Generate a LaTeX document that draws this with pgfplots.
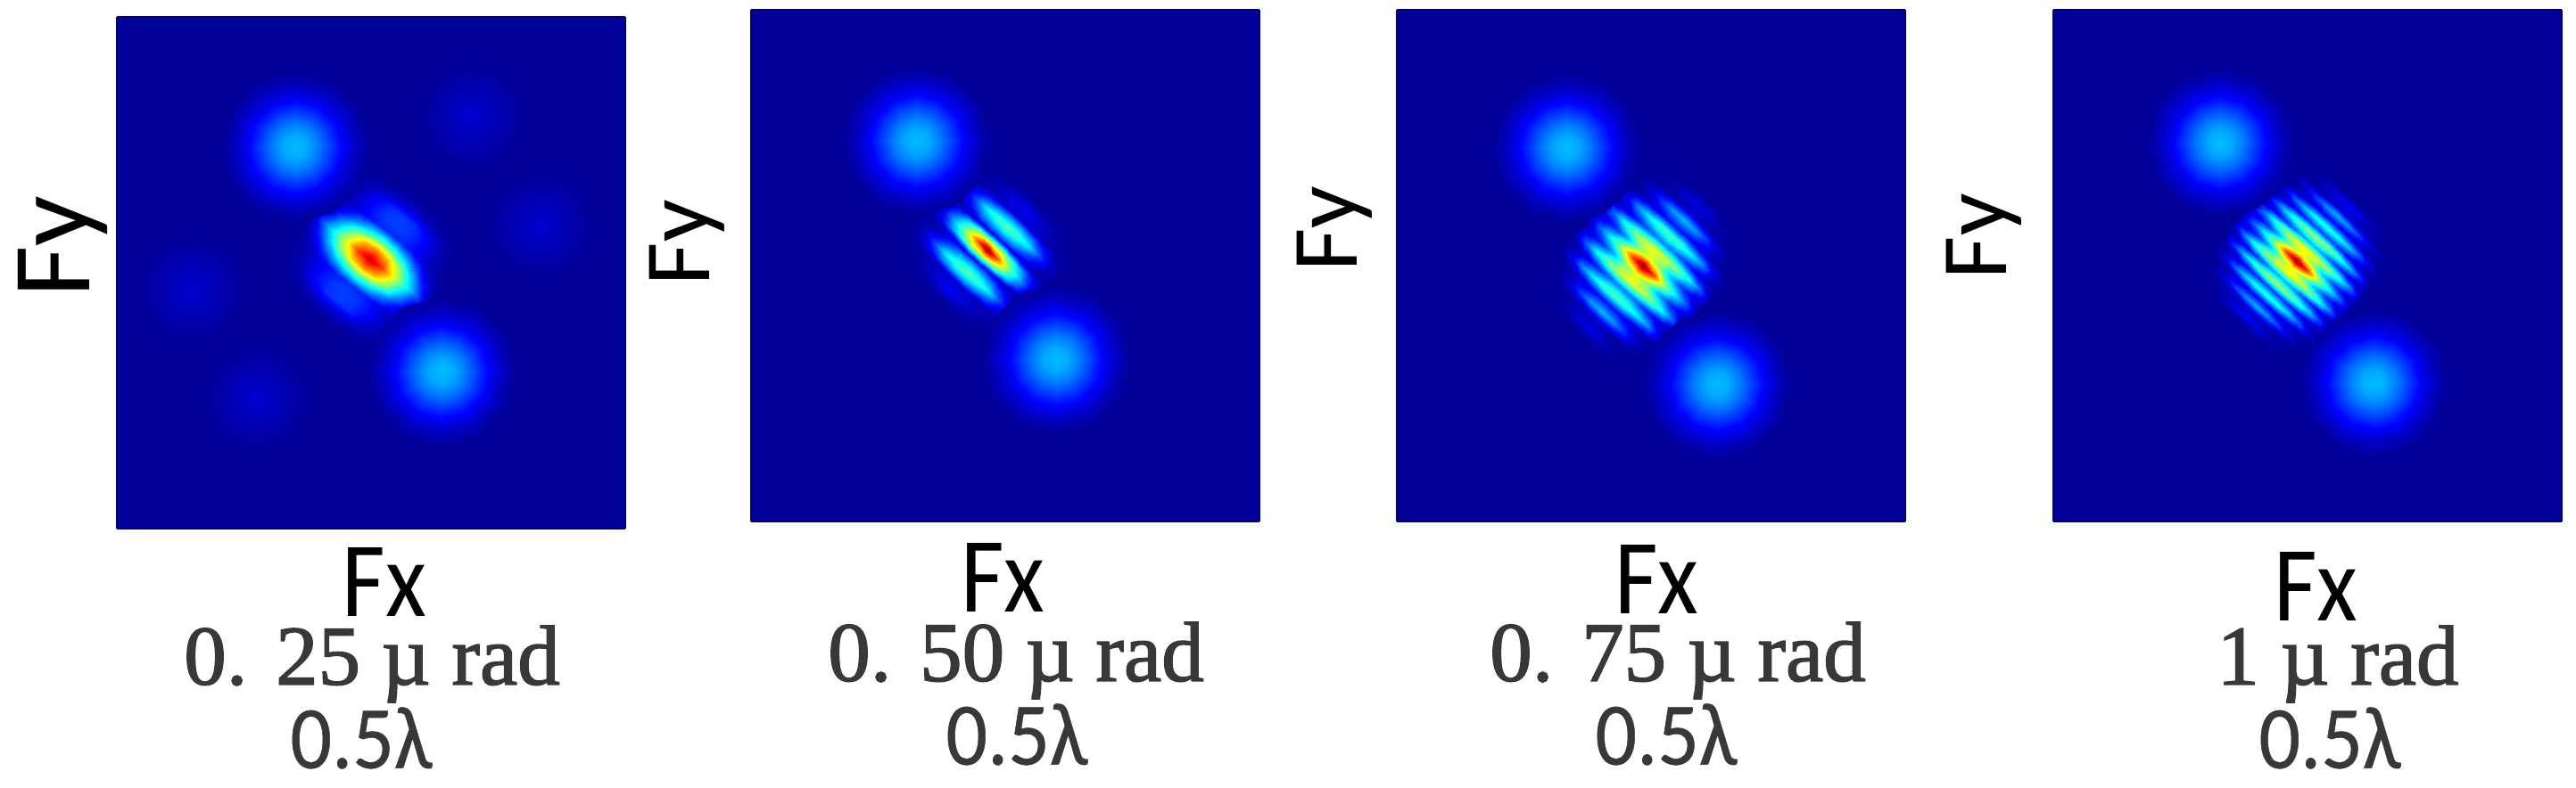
\documentclass[border=0pt]{standalone}
\usepackage{fontspec}
\usepackage{pgfplots}
\usepackage{pgfplotstable}
\pgfplotsset{compat=1.18}
\setmainfont{Carlito}
\newfontfamily\radfont[FakeBold=1.6]{Liberation Serif}
\newfontfamily\lamfont[FakeBold=0.5]{Carlito}
\definecolor{txt}{gray}{0.22}

% all tables are intensities
% one bright spot: 7 rings of 13 points, from the middle out
\pgfplotstableread[row sep=\\,header=false]{%
.31\\.31\\.31\\.31\\.31\\.31\\.31\\.31\\.31\\.31\\.31\\.31\\.31\\%
.29\\.29\\.29\\.29\\.29\\.29\\.29\\.29\\.29\\.29\\.29\\.29\\.29\\%
.24\\.24\\.24\\.24\\.24\\.24\\.24\\.24\\.24\\.24\\.24\\.24\\.24\\%
.175\\.175\\.175\\.175\\.175\\.175\\.175\\.175\\.175\\.175\\.175\\.175\\.175\\%
.11\\.11\\.11\\.11\\.11\\.11\\.11\\.11\\.11\\.11\\.11\\.11\\.11\\%
.06\\.06\\.06\\.06\\.06\\.06\\.06\\.06\\.06\\.06\\.06\\.06\\.06\\%
.025\\.025\\.025\\.025\\.025\\.025\\.025\\.025\\.025\\.025\\.025\\.025\\.025\\%
}\spot
% faint lobes of the first panel: 3 rings
\pgfplotstableread[row sep=\\,header=false]{%
.08\\.08\\.08\\.08\\.08\\.08\\.08\\.08\\.08\\.08\\.08\\.08\\.08\\%
.05\\.05\\.05\\.05\\.05\\.05\\.05\\.05\\.05\\.05\\.05\\.05\\.05\\%
.025\\.025\\.025\\.025\\.025\\.025\\.025\\.025\\.025\\.025\\.025\\.025\\.025\\%
}\faint
% 0.25 urad, 15 rows of 11
\pgfplotstableread[row sep=\\,header=false]{%
.025\\.025\\.025\\.025\\.025\\.025\\.025\\.025\\.025\\.025\\.025\\%
.025\\.025\\.035\\.05\\.07\\.08\\.07\\.05\\.035\\.025\\.025\\%
.025\\.03\\.07\\.12\\.17\\.18\\.17\\.12\\.07\\.03\\.025\\%
.025\\.04\\.09\\.14\\.18\\.19\\.18\\.14\\.09\\.04\\.025\\%
.03\\.04\\.08\\.13\\.16\\.17\\.16\\.13\\.08\\.04\\.03\\%
.03\\.07\\.18\\.30\\.40\\.45\\.40\\.30\\.18\\.07\\.03\\%
.04\\.15\\.33\\.52\\.68\\.75\\.68\\.52\\.33\\.15\\.04\\%
.06\\.24\\.42\\.62\\.83\\.93\\.83\\.62\\.42\\.24\\.06\\%
.04\\.15\\.33\\.52\\.68\\.75\\.68\\.52\\.33\\.15\\.04\\%
.03\\.07\\.18\\.30\\.40\\.45\\.40\\.30\\.18\\.07\\.03\\%
.03\\.04\\.08\\.13\\.16\\.17\\.16\\.13\\.08\\.04\\.03\\%
.025\\.04\\.09\\.14\\.18\\.19\\.18\\.14\\.09\\.04\\.025\\%
.025\\.03\\.07\\.12\\.17\\.18\\.17\\.12\\.07\\.03\\.025\\%
.025\\.025\\.035\\.05\\.07\\.08\\.07\\.05\\.035\\.025\\.025\\%
.025\\.025\\.025\\.025\\.025\\.025\\.025\\.025\\.025\\.025\\.025\\%
}\cone
% 0.50 urad, 19 rows of 11
\pgfplotstableread[row sep=\\,header=false]{%
.025\\.025\\.025\\.025\\.025\\.025\\.025\\.025\\.025\\.025\\.025\\%
.025\\.025\\.03\\.04\\.06\\.08\\.06\\.04\\.03\\.025\\.025\\%
.025\\.025\\.04\\.07\\.10\\.12\\.10\\.07\\.04\\.025\\.025\\%
.025\\.03\\.04\\.05\\.065\\.07\\.065\\.05\\.04\\.03\\.025\\%
.025\\.05\\.12\\.22\\.28\\.30\\.28\\.22\\.12\\.05\\.025\\%
.025\\.07\\.20\\.36\\.44\\.47\\.44\\.36\\.20\\.07\\.025\\%
.025\\.05\\.13\\.24\\.30\\.33\\.30\\.24\\.13\\.05\\.025\\%
.025\\.035\\.06\\.09\\.12\\.13\\.12\\.09\\.06\\.035\\.025\\%
.03\\.09\\.24\\.40\\.56\\.62\\.56\\.40\\.24\\.09\\.03\\%
.03\\.12\\.32\\.52\\.78\\1\\.78\\.52\\.32\\.12\\.03\\%
.03\\.09\\.24\\.40\\.56\\.62\\.56\\.40\\.24\\.09\\.03\\%
.025\\.035\\.06\\.09\\.12\\.13\\.12\\.09\\.06\\.035\\.025\\%
.025\\.05\\.13\\.24\\.30\\.33\\.30\\.24\\.13\\.05\\.025\\%
.025\\.07\\.20\\.36\\.44\\.47\\.44\\.36\\.20\\.07\\.025\\%
.025\\.05\\.12\\.22\\.28\\.30\\.28\\.22\\.12\\.05\\.025\\%
.025\\.03\\.04\\.05\\.065\\.07\\.065\\.05\\.04\\.03\\.025\\%
.025\\.025\\.04\\.07\\.10\\.12\\.10\\.07\\.04\\.025\\.025\\%
.025\\.025\\.03\\.04\\.06\\.08\\.06\\.04\\.03\\.025\\.025\\%
.025\\.025\\.025\\.025\\.025\\.025\\.025\\.025\\.025\\.025\\.025\\%
}\ctwo
% 0.75 urad, 19 rows of 11
\pgfplotstableread[row sep=\\,header=false]{%
.025\\.025\\.025\\.025\\.025\\.025\\.025\\.025\\.025\\.025\\.025\\%
.025\\.025\\.03\\.04\\.08\\.10\\.08\\.04\\.03\\.025\\.025\\%
.025\\.025\\.03\\.035\\.05\\.06\\.05\\.035\\.03\\.025\\.025\\%
.025\\.03\\.08\\.19\\.28\\.31\\.28\\.19\\.08\\.03\\.025\\%
.025\\.03\\.06\\.09\\.13\\.14\\.13\\.09\\.06\\.03\\.025\\%
.025\\.11\\.27\\.37\\.44\\.46\\.44\\.37\\.27\\.11\\.025\\%
.025\\.06\\.11\\.17\\.23\\.25\\.23\\.17\\.11\\.06\\.025\\%
.05\\.23\\.39\\.50\\.57\\.60\\.57\\.50\\.39\\.23\\.05\\%
.04\\.10\\.18\\.30\\.50\\.60\\.50\\.30\\.18\\.10\\.04\\%
.05\\.22\\.38\\.55\\.82\\1\\.82\\.55\\.38\\.22\\.05\\%
.04\\.10\\.18\\.30\\.50\\.60\\.50\\.30\\.18\\.10\\.04\\%
.05\\.23\\.39\\.50\\.57\\.60\\.57\\.50\\.39\\.23\\.05\\%
.025\\.06\\.11\\.17\\.23\\.25\\.23\\.17\\.11\\.06\\.025\\%
.025\\.11\\.27\\.37\\.44\\.46\\.44\\.37\\.27\\.11\\.025\\%
.025\\.03\\.06\\.09\\.13\\.14\\.13\\.09\\.06\\.03\\.025\\%
.025\\.03\\.08\\.19\\.28\\.31\\.28\\.19\\.08\\.03\\.025\\%
.025\\.025\\.03\\.035\\.05\\.06\\.05\\.035\\.03\\.025\\.025\\%
.025\\.025\\.03\\.04\\.08\\.10\\.08\\.04\\.03\\.025\\.025\\%
.025\\.025\\.025\\.025\\.025\\.025\\.025\\.025\\.025\\.025\\.025\\%
}\cthree
% 1 urad, 23 rows of 11
\pgfplotstableread[row sep=\\,header=false]{%
.025\\.025\\.025\\.025\\.025\\.025\\.025\\.025\\.025\\.025\\.025\\%
.025\\.025\\.03\\.06\\.10\\.12\\.10\\.06\\.03\\.025\\.025\\%
.025\\.025\\.03\\.04\\.06\\.07\\.06\\.04\\.03\\.025\\.025\\%
.025\\.03\\.09\\.19\\.27\\.30\\.27\\.19\\.09\\.03\\.025\\%
.025\\.03\\.05\\.08\\.11\\.125\\.11\\.08\\.05\\.03\\.025\\%
.025\\.08\\.22\\.33\\.40\\.42\\.40\\.33\\.22\\.08\\.025\\%
.025\\.05\\.09\\.14\\.18\\.19\\.18\\.14\\.09\\.05\\.025\\%
.025\\.18\\.33\\.44\\.51\\.54\\.51\\.44\\.33\\.18\\.025\\%
.03\\.07\\.13\\.19\\.27\\.30\\.27\\.19\\.13\\.07\\.03\\%
.06\\.25\\.41\\.52\\.59\\.62\\.59\\.52\\.41\\.25\\.06\\%
.04\\.10\\.19\\.32\\.52\\.62\\.52\\.32\\.19\\.10\\.04\\%
.05\\.22\\.38\\.55\\.82\\1\\.82\\.55\\.38\\.22\\.05\\%
.04\\.10\\.19\\.32\\.52\\.62\\.52\\.32\\.19\\.10\\.04\\%
.06\\.25\\.41\\.52\\.59\\.62\\.59\\.52\\.41\\.25\\.06\\%
.03\\.07\\.13\\.19\\.27\\.30\\.27\\.19\\.13\\.07\\.03\\%
.025\\.18\\.33\\.44\\.51\\.54\\.51\\.44\\.33\\.18\\.025\\%
.025\\.05\\.09\\.14\\.18\\.19\\.18\\.14\\.09\\.05\\.025\\%
.025\\.08\\.22\\.33\\.40\\.42\\.40\\.33\\.22\\.08\\.025\\%
.025\\.03\\.05\\.08\\.11\\.125\\.11\\.08\\.05\\.03\\.025\\%
.025\\.03\\.09\\.19\\.27\\.30\\.27\\.19\\.09\\.03\\.025\\%
.025\\.025\\.03\\.04\\.06\\.07\\.06\\.04\\.03\\.025\\.025\\%
.025\\.025\\.03\\.06\\.10\\.12\\.10\\.06\\.03\\.025\\.025\\%
.025\\.025\\.025\\.025\\.025\\.025\\.025\\.025\\.025\\.025\\.025\\%
}\cfour

% table, cols, rows, du, dv, centre x, centre y, cos, sin of the fringe direction
\newcommand\lobe[9]{%
  \addplot3[surf,shader=interp,mesh/cols=#2] table[
    x index=0, y index=0, z index=0,
    x expr={#6+#8*(mod(\coordindex,#2)-(#2-1)/2)*#4+#9*(floor(\coordindex/#2)-(#3-1)/2)*#5},
    y expr={#7-#9*(mod(\coordindex,#2)-(#2-1)/2)*#4+#8*(floor(\coordindex/#2)-(#3-1)/2)*#5}]{#1};}
% table, ring spacing, centre x, centre y
\newcommand\ring[4]{%
  \addplot3[surf,shader=interp,mesh/cols=13] table[
    x index=0, y index=0, z index=0,
    x expr={#3+floor(\coordindex/13)*#2*cos(mod(\coordindex,13)*30)},
    y expr={#4+floor(\coordindex/13)*#2*sin(mod(\coordindex,13)*30)}]{#1};}
\newcommand\ground{\addplot3[surf,shader=interp,mesh/cols=2] coordinates {(0,0,.025) (570,0,.025) (0,574,.025) (570,574,.025)};}

\pgfplotsset{
  panel/.style={
    anchor=south west, scale only axis, width=114pt, height=114.8pt,
    view={0}{90}, xmin=0, xmax=570, ymin=0, ymax=574, ticks=none,
    colormap/jet, point meta min=0, point meta max=1,
    axis line style={draw=blue!45!black,line width=.5pt},
    xlabel={Fx}, ylabel={Fy},
  },
  fxat/.style 2 args={every axis x label/.style={at={(axis description cs:#1,#2)},anchor=center,inner sep=0pt,font=\fontsize{24}{24}\selectfont,xscale=.88}},
  fyat/.style n args={3}{every axis y label/.style={at={(axis description cs:#1,#2)},anchor=center,inner sep=0pt,rotate=90,font=\fontsize{#3}{#3}\selectfont}},
}
\newcommand\rad[3]{\node[text=txt,inner sep=0pt,font=\radfont\fontsize{19}{19}\selectfont] at (#1*0.2pt,176.6pt-#2*0.2pt) {#3};}
\newcommand\lam[2]{\node[text=txt,inner sep=0pt,font=\lamfont\fontsize{20}{20}\selectfont,xscale=.92] at (#1*0.2pt,176.6pt-#2*0.2pt) {0.5λ};}

\begin{document}
\begin{tikzpicture}
\path (0,0) rectangle (577.6pt,176.6pt);

\begin{axis}[panel,at={(26.2pt,58pt)},fxat={.526}{-.105},fyat={-.107}{.551}{25}]
\ground
\ring{\faint}{30}{398}{463}
\ring{\faint}{30}{475}{340}
\ring{\faint}{30}{84}{269}
\ring{\faint}{30}{157}{146}
\lobe{\cone}{11}{15}{16}{12}{284}{302.5}{.79}{.61}
\ring{\spot}{14}{200}{428}
\ring{\spot}{14}{364.5}{176}
\end{axis}

\begin{axis}[panel,at={(168.4pt,59.6pt)},fxat={.495}{-.110},fyat={-.126}{.545}{21}]
\ground
\lobe{\ctwo}{11}{19}{16}{8.5}{264.7}{305}{.743}{.669}
\ring{\spot}{14}{186}{427}
\ring{\spot}{14}{342}{182}
\end{axis}

\begin{axis}[panel,at={(313.2pt,59.6pt)},fxat={.511}{-.113},fyat={-.123}{.572}{21}]
\ground
\lobe{\cthree}{11}{19}{16}{11.5}{275.7}{286.7}{.743}{.669}
\ring{\spot}{14}{190}{419}
\ring{\spot}{14}{359}{154}
\end{axis}

\begin{axis}[panel,at={(460.4pt,59.6pt)},fxat={.516}{-.127},fyat={-.137}{.557}{21}]
\ground
\lobe{\cfour}{11}{23}{16}{8.5}{273}{292}{.743}{.669}
\ring{\spot}{14}{187}{425}
\ring{\spot}{14}{358.5}{156}
\end{axis}

\rad{417}{745}{0. 25 µ rad}
\rad{1139}{741}{0. 50 µ rad}
\rad{1881}{741}{0. 75 µ rad}
\rad{2621}{745}{1 µ rad}
\lam{405}{828}
\lam{1140}{824}
\lam{1868}{824}
\lam{2612}{828}
\end{tikzpicture}
\end{document}
